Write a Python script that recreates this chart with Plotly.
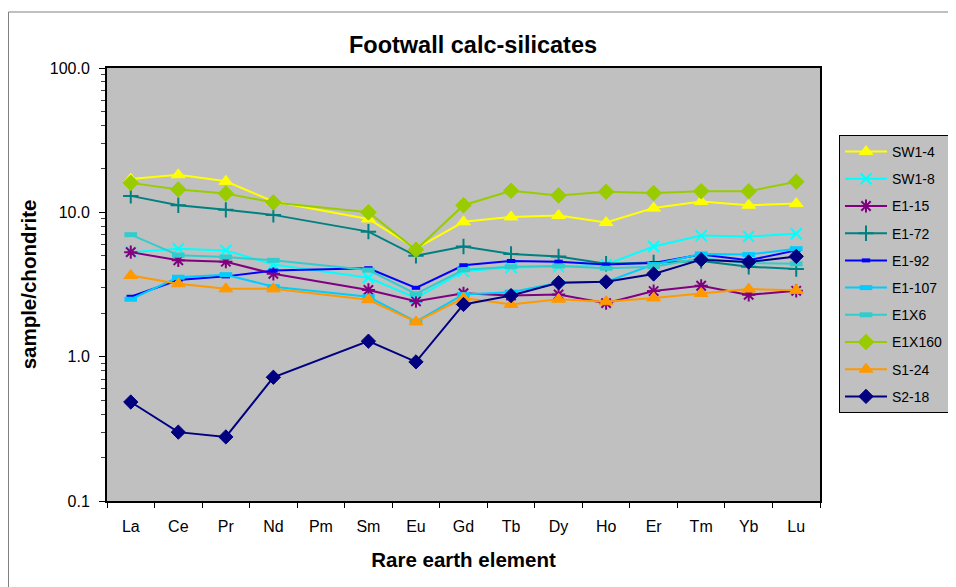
import plotly.graph_objects as go

elements = ["La", "Ce", "Pr", "Nd", "Pm", "Sm", "Eu", "Gd", "Tb", "Dy", "Ho", "Er", "Tm", "Yb", "Lu"]

SW1_4  = [17.0, 18.2, 16.4, 11.9, None, 9.0, 5.6, 8.6, 9.3, 9.5, 8.5, 10.7, 11.9, 11.2, 11.5]
SW1_8  = [5.3, 5.6, 5.45, 4.35, None, 3.52, 2.55, 3.9, 4.15, 4.2, 4.35, 5.8, 6.9, 6.8, 7.1]
E1_15  = [5.3, 4.65, 4.55, 3.75, None, 2.9, 2.42, 2.75, 2.65, 2.7, 2.35, 2.85, 3.1, 2.68, 2.86]
E1_72  = [13.0, 11.2, 10.4, 9.6, None, 7.35, 5.0, 5.8, 5.15, 4.95, 4.4, 4.5, 4.6, 4.2, 4.05]
E1_92  = [2.6, 3.4, 3.6, 3.95, None, 4.1, 3.0, 4.3, 4.6, 4.55, 4.35, 4.45, 5.1, 4.65, 5.45]
E1_107 = [2.5, 3.55, 3.7, 3.05, None, 2.6, 1.75, 2.7, 2.8, 3.25, 3.3, 4.35, 5.15, 5.1, 5.6]
E1X6   = [7.0, 5.05, 4.9, 4.65, None, 3.98, 2.72, 4.0, 4.2, 4.25, 4.1, 4.2, 4.8, 4.46, 4.4]
E1X160 = [16.0, 14.4, 13.5, 11.7, None, 10.0, 5.5, 11.2, 14.1, 13.1, 13.9, 13.6, 14.0, 14.0, 16.3]
S1_24  = [3.65, 3.2, 2.95, 2.95, None, 2.48, 1.74, 2.55, 2.3, 2.5, 2.4, 2.55, 2.74, 2.94, 2.88]
S2_18  = [0.485, 0.30, 0.278, 0.72, None, 1.28, 0.92, 2.3, 2.65, 3.25, 3.3, 3.74, 4.7, 4.53, 4.95]

series = [
    ("SW1-4", SW1_4, "#FFFF00", "triangle-up", 12, 1),
    ("SW1-8", SW1_8, "#00FFFF", "x-thin-open", 11, 2),
    ("E1-15", E1_15, "#800080", "asterisk-open", 11, 2),
    ("E1-72", E1_72, "#008080", "cross-thin-open", 11, 2),
    ("E1-92", E1_92, "#0000FF", "line-ew-open", 6, 4),
    ("E1-107", E1_107, "#00CCFF", "line-ew-open", 9, 5),
    ("E1X6", E1X6, "#33CCCC", "line-ew-open", 9, 5),
    ("E1X160", E1X160, "#99CC00", "diamond", 12, 1),
    ("S1-24", S1_24, "#FF9900", "triangle-up", 12, 1),
    ("S2-18", S2_18, "#000080", "diamond", 11, 1),
]

fig = go.Figure()
for name, vals, color, sym, size, lw in series:
    fig.add_trace(go.Scatter(
        x=elements, y=vals, name=name, mode="lines+markers",
        connectgaps=True, legendgroup=name,
        line=dict(color=color, width=2),
        marker=dict(symbol=sym, size=size, color=color,
                    line=dict(color=color, width=lw)),
    ))

# page body has an 8px margin: figure coordinates = screen - 8
W, H = 948, 579
L, R, T, B = 99, 812, 60, 493
pw, ph = R - L, B - T

bx = (0.5 - L) / pw
by = (B - 4) / ph
font = "Liberation Sans, Arial, sans-serif"
fig.update_layout(
    width=W, height=H,
    margin=dict(l=L, r=W - R, t=T, b=H - B, autoexpand=False),
    paper_bgcolor="white", plot_bgcolor="#C0C0C0",
    font=dict(family=font, color="black", size=15),
    title=dict(text="<b>Footwall calc-silicates</b>", x=465 / W, xanchor="center",
               y=1 - 37 / H, yanchor="middle", font=dict(size=23.5)),
    showlegend=True,
    legend=dict(x=(831 - L) / pw, y=(B - 127) / ph, xanchor="left", yanchor="top",
                bgcolor="#C0C0C0", bordercolor="black", borderwidth=1,
                font=dict(size=14), tracegroupgap=6, itemwidth=42),
    shapes=[
        dict(type="line", xref="paper", yref="paper", x0=bx, x1=bx, y0=-0.3, y1=by,
             line=dict(color="#808080", width=1), layer="below"),
        dict(type="line", xref="paper", yref="paper", x0=bx, x1=(W + 20 - L) / pw, y0=by, y1=by,
             line=dict(color="#808080", width=1), layer="below"),
    ],
)
fig.update_xaxes(
    type="category", categoryorder="array", categoryarray=elements,
    range=[-0.5, len(elements) - 0.5], autorange=False,
    showline=True, linecolor="black", linewidth=2, mirror=True,
    ticks="outside", tickson="boundaries", ticklen=5, tickcolor="black",
    showgrid=False, tickfont=dict(size=16), ticklabelstandoff=10,
    title=dict(text="<b>Rare earth element</b>", font=dict(size=20.5), standoff=18),
)
fig.update_yaxes(
    type="log", range=[-1, 2], dtick=1, tickformat=".1f",
    showline=True, linecolor="black", linewidth=2, mirror=True,
    ticks="outside", ticklen=6, tickcolor="black", showgrid=False,
    tickfont=dict(size=16), ticklabelstandoff=6,
    minor=dict(ticks="outside", ticklen=4, tickcolor="#404040", dtick="D1", showgrid=False),
    title=dict(text="<b>sample/chondrite</b>", font=dict(size=20.5), standoff=8),
)

fig.write_html("out.html")
